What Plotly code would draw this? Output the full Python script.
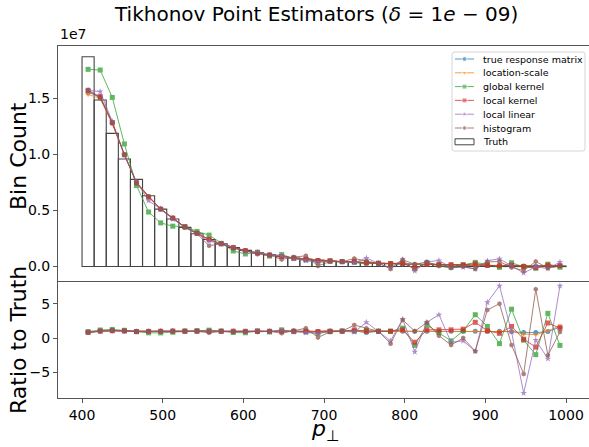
import numpy as np
import plotly.graph_objects as go

# 40 bins of width 15 GeV between 400 and 1000
bin_edges = np.arange(400, 1001, 15)
bin_centers = 0.5 * (bin_edges[:-1] + bin_edges[1:])

# true bin counts
truth = np.array([
    1.873e7, 1.487e7, 1.189e7, 0.960e7, 0.778e7, 0.632e7, 0.513e7, 0.424e7,
    0.350e7, 0.293e7, 0.242e7, 0.203e7, 0.170e7, 0.144e7, 0.122e7, 0.104e7,
    0.089e7, 0.077e7, 0.066e7, 0.057e7, 0.050e7, 0.043e7, 0.038e7, 0.033e7,
    0.029e7, 0.026e7, 0.023e7, 0.020e7, 0.018e7, 0.016e7, 0.014e7, 0.0125e7,
    0.011e7, 0.010e7, 0.009e7, 0.008e7, 0.0072e7, 0.0065e7, 0.0058e7, 0.0052e7,
])

# estimate / truth for each unfolding method
ratio_true_response = [
    0.83, 1.02, 1.08, 1.04, 0.97, 0.99, 1.00, 1.02, 1.01, 1.02,
    1.00, 1.00, 1.00, 0.98, 1.00, 1.00, 1.00, 1.00, 1.00, 0.95,
    1.02, 1.00, 1.05, 0.80, 1.00, 1.00, 1.00, 1.00, 1.00, 1.00,
    1.00, 1.00, 1.00, 1.00, 1.00, 0.95, 0.80, 0.80, 0.95, 1.60,
]
ratio_location_scale = [
    0.82, 1.01, 1.07, 1.04, 0.97, 0.99, 1.00, 1.02, 1.01, 1.02,
    1.00, 1.00, 1.00, 0.98, 1.00, 1.00, 1.00, 1.00, 1.00, 0.95,
    1.15, 1.00, 1.02, 0.90, 1.00, 1.00, 1.00, 1.00, 1.00, 0.95,
    1.00, 1.00, 1.00, 1.00, 1.00, 0.95, 0.60, 0.50, 1.05, 1.80,
]
ratio_global_kernel = [
    0.94, 1.18, 1.27, 1.14, 0.93, 0.77, 0.76, 0.85, 1.02, 1.07,
    1.16, 1.02, 0.82, 0.78, 1.05, 0.90, 1.20, 0.95, 0.90, 0.70,
    0.95, 1.05, 1.00, 1.10, 1.00, 1.00, 1.45, -1.05, 1.90, 0.80,
    -0.40, 1.06, 3.40, 1.70, -0.80, 4.20, -0.30, -2.40, 3.60, -1.05,
]
ratio_local_kernel = [
    0.84, 1.02, 1.08, 1.04, 0.96, 0.98, 1.00, 1.02, 1.01, 1.01,
    1.00, 1.00, 1.00, 0.99, 1.00, 1.00, 1.00, 1.00, 1.00, 0.95,
    1.00, 1.00, 1.20, 1.00, 1.00, 1.00, 1.20, -0.60, 1.20, 1.20,
    1.20, 1.30, 2.30, 1.06, 0.70, 1.70, -0.15, -1.30, 2.20, 1.45,
]
ratio_local_linear = [
    0.84, 1.05, 1.09, 1.04, 0.97, 0.93, 1.00, 1.00, 1.00, 1.00,
    0.94, 1.00, 1.00, 0.90, 1.05, 0.95, 1.10, 0.90, 0.80, 0.70,
    0.95, 1.00, 0.90, 2.30, 1.00, -0.40, 2.75, -2.00, 2.30, 3.40,
    -0.60, -0.40, -1.90, 5.20, 7.60, 0.90, -8.00, -0.30, -3.00, 7.60,
]
ratio_histogram = [
    0.84, 1.01, 1.08, 1.04, 0.96, 0.99, 1.00, 1.02, 1.00, 1.00,
    0.77, 1.00, 0.95, 1.00, 0.90, 1.00, 0.70, 1.10, 1.45, 0.10,
    0.90, 1.00, 1.90, 1.45, 1.00, -0.80, 2.65, 1.00, 2.27, 0.35,
    -1.00, 0.00, -1.90, 4.10, 5.00, -1.00, -5.20, 7.10, -2.50, 0.90,
]

methods = [
    ("true response matrix", ratio_true_response, "#1f77b4", "circle"),
    ("location-scale", ratio_location_scale, "#ff7f0e", "triangle-down"),
    ("global kernel", ratio_global_kernel, "#2ca02c", "square"),
    ("local kernel", ratio_local_kernel, "#d62728", "square"),
    ("local linear", ratio_local_linear, "#9467bd", "star"),
    ("histogram", ratio_histogram, "#8c564b", "hexagon"),
]

FONT = "DejaVu Sans"
W, H = 589, 447
L, R, T, B = 58, 0, 46, 49
plot_h = H - T - B
split_px = 281  # boundary between the two panels
bottom_frac = (H - B - split_px) / plot_h

fig = go.Figure()

# Truth histogram (outlined bars)
fig.add_trace(go.Bar(
    x=bin_centers, y=truth, width=15, name="Truth",
    marker=dict(color="rgba(0,0,0,0)", line=dict(color="#444", width=1.1)),
    xaxis="x2", yaxis="y2", showlegend=False,
))

for name, ratio, color, symbol in methods:
    ratio = np.array(ratio)
    estimate = ratio * truth
    fig.add_trace(go.Scatter(
        x=bin_centers, y=estimate, name=name, mode="lines+markers",
        line=dict(color=color, width=1), opacity=0.75,
        marker=dict(symbol=symbol, size=5, color=color),
        xaxis="x2", yaxis="y2", showlegend=False,
    ))
    fig.add_trace(go.Scatter(
        x=bin_centers, y=ratio, name=name, mode="lines+markers",
        line=dict(color=color, width=1), opacity=0.75,
        marker=dict(symbol=symbol, size=5, color=color),
        xaxis="x", yaxis="y", showlegend=False,
    ))

# Compact legend box drawn on a pixel-unit overlay of the upper panel
LEG_X0, LEG_X1, LEG_Y0, LEG_Y1 = 452, 585, 52, 151
ROW0, ROW_STEP = 59, 13.8
SAMPLE_X0, SAMPLE_X1, TEXT_X = 455, 474, 481
for k, (name, _, color, symbol) in enumerate(methods):
    yrow = ROW0 + k * ROW_STEP
    xm = 0.5 * (SAMPLE_X0 + SAMPLE_X1)
    fig.add_trace(go.Scatter(
        x=[SAMPLE_X0, xm, SAMPLE_X1], y=[yrow] * 3, mode="lines+markers",
        line=dict(color=color, width=1), opacity=0.75,
        marker=dict(symbol=symbol, size=[0, 5, 0], color=color),
        xaxis="x3", yaxis="y3", showlegend=False, hoverinfo="skip",
    ))

legend_names = [m[0] for m in methods] + ["Truth"]

axis_common = dict(
    showline=True, linecolor="#555", linewidth=1, mirror=True,
    showgrid=False, zeroline=False,
    tickfont=dict(family=FONT, size=14, color="black"),
    ticks="outside", ticklen=4, tickcolor="#555",
)
xrange = [370.2, 1028.5]

fig.update_layout(
    width=W, height=H,
    margin=dict(l=L, r=R, t=T, b=B),
    paper_bgcolor="white", plot_bgcolor="white",
    barmode="overlay", showlegend=False,
    xaxis=dict(domain=[0, 1], range=xrange, anchor="y",
               tickvals=[400, 500, 600, 700, 800, 900, 1000],
               **{**axis_common, "mirror": False}),
    yaxis=dict(domain=[0, bottom_frac], range=[-8.7, 8.3], anchor="x",
               tickvals=[-5, 0, 5], ticktext=["\u22125", "0", "5"], **axis_common),
    xaxis2=dict(domain=[0, 1], range=xrange, anchor="y2", matches="x",
                showticklabels=False, **{**axis_common, "ticks": ""}),
    yaxis2=dict(domain=[bottom_frac, 1], range=[-0.129e7, 1.969e7], anchor="x2",
                tickvals=[0, 0.5e7, 1.0e7, 1.5e7], ticktext=["0.0", "0.5", "1.0", "1.5"],
                **axis_common),
    xaxis3=dict(overlaying="x2", range=[L, W - R], visible=False, anchor="y3"),
    yaxis3=dict(overlaying="y2", range=[split_px, T], visible=False, anchor="x3"),
)

# legend frame with slightly rounded corners
r = 2.5
frame = (f"M {LEG_X0 + r},{LEG_Y0} L {LEG_X1 - r},{LEG_Y0} Q {LEG_X1},{LEG_Y0} {LEG_X1},{LEG_Y0 + r} "
         f"L {LEG_X1},{LEG_Y1 - r} Q {LEG_X1},{LEG_Y1} {LEG_X1 - r},{LEG_Y1} "
         f"L {LEG_X0 + r},{LEG_Y1} Q {LEG_X0},{LEG_Y1} {LEG_X0},{LEG_Y1 - r} "
         f"L {LEG_X0},{LEG_Y0 + r} Q {LEG_X0},{LEG_Y0} {LEG_X0 + r},{LEG_Y0} Z")
truth_row = ROW0 + len(methods) * ROW_STEP
fig.update_layout(shapes=[
    dict(type="path", path=frame, xref="x3", yref="y3", layer="below",
         fillcolor="rgba(255,255,255,0.8)", line=dict(color="#d6d6d6", width=1)),
    dict(type="rect", xref="x3", yref="y3", x0=SAMPLE_X0, x1=SAMPLE_X1,
         y0=truth_row - 3, y1=truth_row + 3, line=dict(color="#444", width=1),
         fillcolor="rgba(0,0,0,0)"),
])

def py(px):
    return (H - B - px) / plot_h

def pxx(px):
    return (px - L) / (W - L - R)

annotations = [
    dict(text="Tikhonov Point Estimators (<i>\u03b4</i> = 1<i>e</i> \u2212 09)",
         x=pxx(316), y=py(14), font=dict(family=FONT, size=20, color="black")),
    dict(text="1e7", x=pxx(58), y=py(44), xanchor="left", yanchor="bottom",
         font=dict(family=FONT, size=14, color="black")),
    dict(text="Bin Count", x=pxx(18), y=py(156), textangle=-90,
         font=dict(family=FONT, size=22, color="black")),
    dict(text="Ratio to Truth", x=pxx(18), y=py(340), textangle=-90,
         font=dict(family=FONT, size=22, color="black")),
    dict(text="<i>p</i><sub>\u22a5</sub>", x=pxx(325), y=py(430),
         font=dict(family=FONT, size=22, color="black")),
]
for a in annotations:
    a.update(xref="paper", yref="paper")
for k, name in enumerate(legend_names):
    annotations.append(dict(
        text=name, x=TEXT_X, y=ROW0 + k * ROW_STEP, xref="x3", yref="y3",
        xanchor="left", yanchor="middle",
        font=dict(family=FONT, size=9.5, color="black"),
    ))
for a in annotations:
    a["showarrow"] = False
    a.setdefault("xanchor", "center")
    a.setdefault("yanchor", "middle")
fig.update_layout(annotations=annotations)

fig.write_html("out.html")
